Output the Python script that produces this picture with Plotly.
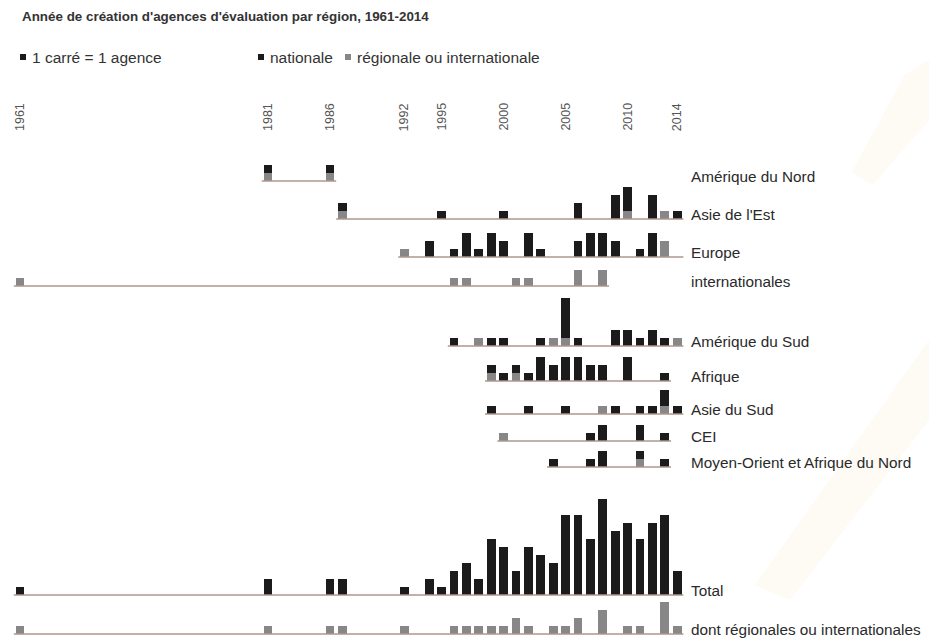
import plotly.graph_objects as go

# ---------------- data ----------------
tick_years = [1961, 1981, 1986, 1992, 1995, 2000, 2005, 2010, 2014]

row_names = ["Amérique du Nord", "Asie de l'Est", "Europe", "internationales",
             "Amérique du Sud", "Afrique", "Asie du Sud", "CEI",
             "Moyen-Orient et Afrique du Nord"]

an_years = [1981, 1986]
an_nat = [1, 1]
an_reg = [1, 1]

ae_years = [1987, 1995, 2000, 2006, 2009, 2010, 2012, 2013, 2014]
ae_nat = [1, 1, 1, 2, 3, 3, 3, 0, 1]
ae_reg = [1, 0, 0, 0, 0, 1, 0, 1, 0]

eu_years = [1992, 1994, 1996, 1997, 1998, 1999, 2000, 2002, 2003, 2006, 2007, 2008, 2009, 2011, 2012, 2013]
eu_nat = [0, 2, 1, 3, 1, 3, 2, 3, 1, 2, 3, 3, 2, 1, 3, 0]
eu_reg = [1, 0, 0, 0, 0, 0, 0, 0, 0, 0, 0, 0, 0, 0, 0, 2]

int_years = [1961, 1996, 1997, 2001, 2002, 2006, 2008]
int_nat = [0, 0, 0, 0, 0, 0, 0]
int_reg = [1, 1, 1, 1, 1, 2, 2]

as_years = [1996, 1998, 1999, 2000, 2003, 2004, 2005, 2006, 2009, 2010, 2011, 2012, 2013, 2014]
as_nat = [1, 0, 1, 1, 1, 0, 5, 1, 2, 2, 1, 2, 1, 0]
as_reg = [0, 1, 0, 0, 0, 1, 1, 0, 0, 0, 0, 0, 0, 1]

af_years = [1999, 2000, 2001, 2002, 2003, 2004, 2005, 2006, 2007, 2008, 2010, 2013]
af_nat = [1, 1, 1, 1, 3, 2, 3, 3, 2, 2, 3, 1]
af_reg = [1, 0, 1, 0, 0, 0, 0, 0, 0, 0, 0, 0]

ass_years = [1999, 2002, 2005, 2008, 2009, 2011, 2012, 2013, 2014]
ass_nat = [1, 1, 1, 0, 1, 1, 1, 2, 1]
ass_reg = [0, 0, 0, 1, 0, 0, 0, 1, 0]

cei_years = [2000, 2007, 2008, 2011, 2013]
cei_nat = [0, 1, 2, 2, 1]
cei_reg = [1, 0, 0, 0, 0]

mo_years = [2004, 2007, 2008, 2011, 2013]
mo_nat = [1, 1, 2, 1, 1]
mo_reg = [0, 0, 0, 1, 0]

# first / last year covered by each row's base line
span_first = [1981, 1987, 1992, 1961, 1996, 1999, 1999, 2000, 2004]
span_last = [1986, 2014, 2014, 2008, 2014, 2013, 2014, 2013, 2013]

total_years = [1961, 1981, 1986, 1987, 1992, 1994, 1995, 1996, 1997, 1998, 1999, 2000, 2001,
               2002, 2003, 2004, 2005, 2006, 2007, 2008, 2009, 2010, 2011, 2012, 2013, 2014]
total_count = [1, 2, 2, 2, 1, 2, 1, 3, 4, 2, 7, 6, 3, 6, 5, 4, 10, 10, 7, 12, 8, 9, 7, 9, 10, 3]

regint_years = [1961, 1981, 1986, 1987, 1992, 1996, 1997, 1998, 1999, 2000, 2001, 2002,
                2004, 2005, 2006, 2008, 2010, 2011, 2013, 2014]
regint_count = [1, 1, 1, 1, 1, 1, 1, 1, 1, 1, 2, 1, 1, 1, 2, 3, 1, 1, 4, 1]

total_label = "Total"
regint_label = "dont régionales ou internationales"
title_text = "Année de création d'agences d'évaluation par région, 1961-2014"
legend_texts = ["1 carré = 1 agence", "nationale", "régionale ou internationale"]

rows = [
    (an_years, an_nat, an_reg), (ae_years, ae_nat, ae_reg), (eu_years, eu_nat, eu_reg),
    (int_years, int_nat, int_reg), (as_years, as_nat, as_reg), (af_years, af_nat, af_reg),
    (ass_years, ass_nat, ass_reg), (cei_years, cei_nat, cei_reg), (mo_years, mo_nat, mo_reg),
]

# ---------------- layout / style ----------------
W, H = 929, 641
PX_PER_YEAR = 12.4
X0_PX = 20.0      # pixel position of 1961
UNIT_PX = 8.0     # pixel height of one agency square
BLACK = "#1b1b1b"
GREY = "#878787"
LINE = "#ad978b"
TXT = "#2a2a2a"
FONT = "Liberation Sans, Arial, sans-serif"
BAR_W = 0.72

row_base_px = [181, 219, 257, 286, 346, 381, 414, 441, 467]
total_base_px = 595
regint_base_px = 634


def base_units(y_px):
    return (H - y_px) / UNIT_PX


fig = go.Figure()

# base lines
for (first, last, bpx) in zip(span_first + [1961, 1961], span_last + [2014, 2014],
                              row_base_px + [total_base_px, regint_base_px]):
    b = base_units(bpx)
    fig.add_trace(go.Scatter(x=[first - 0.5, last + 0.5], y=[b, b], mode="lines",
                             line=dict(color=LINE, width=1.6), hoverinfo="skip",
                             showlegend=False))

# region bars
for (yrs, nat, reg), bpx in zip(rows, row_base_px):
    b = base_units(bpx)
    fig.add_trace(go.Bar(x=yrs, y=reg, base=[b] * len(yrs), width=BAR_W,
                         marker=dict(color=GREY, line=dict(width=0)), showlegend=False))
    fig.add_trace(go.Bar(x=yrs, y=nat, base=[b + r for r in reg], width=BAR_W,
                         marker=dict(color=BLACK, line=dict(width=0)), showlegend=False))

# totals
b = base_units(total_base_px)
fig.add_trace(go.Bar(x=total_years, y=total_count, base=[b] * len(total_years), width=BAR_W,
                     marker=dict(color=BLACK, line=dict(width=0)), showlegend=False))
b = base_units(regint_base_px)
fig.add_trace(go.Bar(x=regint_years, y=regint_count, base=[b] * len(regint_years), width=BAR_W,
                     marker=dict(color=GREY, line=dict(width=0)), showlegend=False))

annotations = []
# row labels
label_x = 1961 + (689 - X0_PX) / PX_PER_YEAR
for name, bpx in zip(row_names + [total_label, regint_label],
                     row_base_px + [total_base_px, regint_base_px]):
    annotations.append(dict(x=label_x, y=base_units(bpx - 5), xref="x", yref="y",
                            text=name, showarrow=False, xanchor="left", yanchor="middle",
                            font=dict(family=FONT, size=15.3, color=TXT)))

# year tick labels (rotated)
for yr in tick_years:
    annotations.append(dict(x=yr, y=1 - 117 / H, xref="x", yref="paper", text=str(yr),
                            textangle=-90, showarrow=False, xanchor="center", yanchor="middle",
                            font=dict(family=FONT, size=12.5, color="#555555")))

# title
annotations.append(dict(x=20 / W, y=1 - 16 / H, xref="paper", yref="paper",
                        text="<b>" + title_text + "</b>", showarrow=False,
                        xanchor="left", yanchor="middle",
                        font=dict(family=FONT, size=13.4, color="#333333")))

# legend
legend_sq_x = [20, 258, 345]
legend_colors = [BLACK, BLACK, GREY]
shapes = []
for txt, sx, col in zip(legend_texts, legend_sq_x, legend_colors):
    shapes.append(dict(type="rect", xref="paper", yref="paper",
                       x0=sx / W, x1=(sx + 6) / W, y0=1 - 60 / H, y1=1 - 54 / H,
                       fillcolor=col, line=dict(width=0)))
    annotations.append(dict(x=(sx + 10) / W, y=1 - 57 / H, xref="paper", yref="paper",
                            text=txt, showarrow=False, xanchor="left", yanchor="middle",
                            font=dict(family=FONT, size=15.5, color="#333333")))


# faint background watermark (decorative, pixel-space)
def px_path(points):
    return "M " + " L ".join(f"{x / W:.4f},{1 - y / H:.4f}" for x, y in points) + " Z"


for pts in ([(905, 75), (929, 60), (929, 120), (872, 185), (852, 172)],
            [(929, 340), (929, 420), (790, 600), (755, 585)]):
    shapes.append(dict(type="path", xref="paper", yref="paper", path=px_path(pts),
                       fillcolor="#fefaf4", line=dict(width=0), layer="below"))

fig.update_layout(
    width=W, height=H,
    margin=dict(l=0, r=0, t=0, b=0),
    paper_bgcolor="white", plot_bgcolor="rgba(0,0,0,0)",
    barmode="overlay", bargap=0,
    xaxis=dict(range=[1961 - X0_PX / PX_PER_YEAR, 1961 + (W - X0_PX) / PX_PER_YEAR],
               visible=False, fixedrange=True),
    yaxis=dict(range=[0, H / UNIT_PX], visible=False, fixedrange=True),
    annotations=annotations,
    shapes=shapes,
    showlegend=False,
)

fig.write_html("out.html", config={"displayModeBar": False, "staticPlot": True},
               post_script="document.body.style.margin='0';document.body.style.overflow='hidden';")
